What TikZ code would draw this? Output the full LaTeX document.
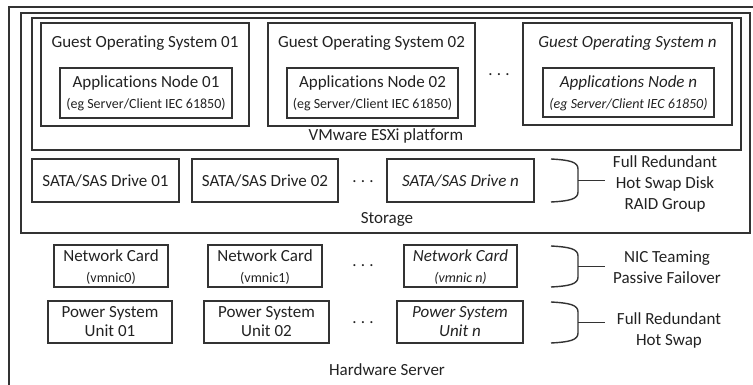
\documentclass[tikz,border=0pt]{standalone}
\usepackage{fontspec}
\setmainfont{Carlito}[Ligatures=NoCommon]
\definecolor{linecol}{HTML}{333333}
\definecolor{txtcol}{HTML}{222222}
\begin{document}
\begin{tikzpicture}[x=1pt,y=-1pt,
  box/.style={draw=linecol, line width=1.4pt, rectangle, inner sep=0pt},
  lbl/.style={font=\fontsize{17}{20}\selectfont, text=txtcol, inner sep=0pt, align=center},
  sml/.style={font=\fontsize{14}{16}\selectfont, text=txtcol, inner sep=0pt},
  ital/.style={font=\fontsize{17}{20}\selectfont\itshape, text=txtcol, inner sep=0pt},
  smlit/.style={font=\fontsize{14}{16}\selectfont\itshape, text=txtcol, inner sep=0pt},
  dots/.style={font=\fontsize{17}{20}\selectfont, text=txtcol, inner sep=0pt},
  brace/.style={draw=linecol, line width=1.4pt},
  link/.style={draw=linecol, line width=1.4pt}
]
\useasboundingbox (0,0) rectangle (753,385);
\clip (0,0) rectangle (753,385);

% outer containers
\node[box, minimum width=770, minimum height=400] (hw) at (394,207) {};
\node[box, minimum width=729, minimum height=220] (stor) at (385.5,123) {};
\node[box, minimum width=709, minimum height=132] (esxi) at (386.5,84) {};

% guest operating systems
\node[box, minimum width=208, minimum height=103] (g1) at (145,74.5) {};
\node[box, minimum width=207, minimum height=103] (g2) at (371.5,74.5) {};
\node[box, minimum width=209, minimum height=102] (gn) at (627.5,74) {};
\node[lbl] (g1t) at (145,43) {Guest Operating System 01};
\node[lbl] (g2t) at (371.5,43) {Guest Operating System 02};
\node[ital] (gnt) at (627.5,43) {Guest Operating System n};
\node[dots] (gdots) at (499,75) {.\hspace{4.2pt}.\hspace{4.2pt}.};

% application nodes
\node[box, minimum width=172, minimum height=50] (a1) at (146,93) {};
\node[box, minimum width=171, minimum height=50] (a2) at (372.5,93) {};
\node[box, minimum width=171, minimum height=49] (an) at (628.5,92.5) {};
\node[lbl] (a1t) at (146,83) {Applications Node 01};
\node[sml] (a1s) at (146,105) {(eg Server/Client IEC 61850)};
\node[lbl] (a2t) at (372.5,83) {Applications Node 02};
\node[sml] (a2s) at (372.5,105) {(eg Server/Client IEC 61850)};
\node[ital] (ant) at (628.5,83) {Applications Node n};
\node[smlit] (ans) at (628.5,105) {(eg Server/Client IEC 61850)};

\node[lbl] (esxit) at (386,136) {VMware ESXi platform};

% storage drives
\node[box, minimum width=147, minimum height=43] (d1) at (105.5,180.5) {};
\node[box, minimum width=146, minimum height=43] (d2) at (265,180.5) {};
\node[box, minimum width=147, minimum height=43] (dn) at (460.5,180.5) {};
\node[lbl] (d1t) at (105.5,181) {SATA/SAS Drive 01};
\node[lbl] (d2t) at (265,181) {SATA/SAS Drive 02};
\node[ital] (dnt) at (460.5,181) {SATA/SAS Drive n};
\node[dots] (ddots) at (363,181.5) {.\hspace{4.2pt}.\hspace{4.2pt}.};
\node[lbl] (stort) at (387,219) {Storage};

% network cards
\node[box, minimum width=114, minimum height=42] (n1) at (111,266) {};
\node[box, minimum width=114, minimum height=42] (n2) at (265,266) {};
\node[box, minimum width=113, minimum height=42] (nn) at (460.5,266) {};
\node[lbl] (n1t) at (111,256) {Network Card};
\node[sml] (n1s) at (111,278) {(vmnic0)};
\node[lbl] (n2t) at (265,256) {Network Card};
\node[sml] (n2s) at (265,278) {(vmnic1)};
\node[ital] (nnt) at (460.5,256) {Network Card};
\node[smlit] (nns) at (460.5,278) {(vmnic n)};
\node[dots] (ndots) at (363,266) {.\hspace{4.2pt}.\hspace{4.2pt}.};

% power system units
\node[box, minimum width=124, minimum height=42] (p1) at (110,322) {};
\node[box, minimum width=125, minimum height=42] (p2) at (266.5,322) {};
\node[box, minimum width=126, minimum height=42] (pn) at (460,322) {};
\node[lbl] (p1t) at (110,322) {Power System\\[-1pt]Unit 01};
\node[lbl] (p2t) at (266.5,322) {Power System\\[-1pt]Unit 02};
\node[lbl, font=\fontsize{17}{20}\selectfont\itshape] (pnt) at (460,322) {Power System\\[-1pt]Unit n};
\node[dots] (pdots) at (363,323) {.\hspace{4.2pt}.\hspace{4.2pt}.};

\node[lbl] (hwt) at (387,370) {Hardware Server};

% redundancy groups
\node[lbl, align=center] (rs) at (665,184) {Full Redundant\\[1pt]Hot Swap Disk\\[1pt]RAID Group};
\node[lbl, align=center] (rn) at (667,267) {NIC Teaming\\[1pt]Passive Failover};
\node[lbl, align=center] (rp) at (669,330) {Full Redundant\\[1pt]Hot Swap};

\foreach \nm/\top/\bot in {bs/159/202, bn/246/287, bp/302/343}{
  \coordinate (\nm a) at (551,\top);
  \coordinate (\nm b) at (551,\bot);
  \coordinate (\nm m) at (578,{(\top+\bot)/2});
  \draw[brace] (\nm a) .. controls (570,\top+1) and (578,\top+3) .. (578,\top+10)
     -- (578,\bot-10) .. controls (578,\bot-3) and (570,\bot-1) .. (\nm b);
}
\coordinate (bse) at (605,180.5);
\coordinate (bne) at (605,266.5);
\coordinate (bpe) at (605,322.5);
\draw[link] (bsm) -- (bse);
\draw[link] (bnm) -- (bne);
\draw[link] (bpm) -- (bpe);
\end{tikzpicture}
\end{document}
